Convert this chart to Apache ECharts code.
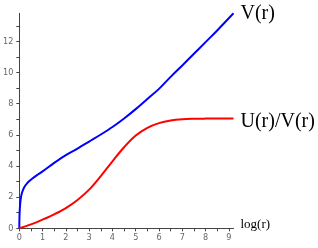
<!DOCTYPE html>
<html>
<head>
<meta charset="utf-8">
<script src="https://cdn.jsdelivr.net/npm/echarts@6/dist/echarts.min.js"></script>
<style>html,body{margin:0;padding:0;background:#fff;}#c{width:318px;height:248px;}</style>
</head>
<body>
<div id="c"></div>
<script>
const vX = [0,0.005,0.02,0.05,0.1,0.2,0.35,0.55,0.8,1,1.5,2,2.5,3,3.5,4,4.5,5,5.5,6,6.5,7,7.5,8,8.5,9.2];
const vY = [0,0.6,1.2,1.75,2.2,2.6,2.92,3.18,3.45,3.65,4.2,4.7,5.12,5.57,6.02,6.5,7.05,7.65,8.3,8.95,9.72,10.45,11.2,11.95,12.7,13.8];
const uX = [0,0.5,1,1.5,2,2.5,3,3.5,4,4.5,5,5.5,6,6.5,7,7.5,8,9.2];
const uY = [0,0.25,0.56,0.9,1.3,1.82,2.48,3.35,4.3,5.2,5.95,6.45,6.75,6.92,7.0,7.03,7.04,7.05];
const xTicks = [0,0.5,1,1.5,2,2.5,3,3.5,4,4.5,5,5.5,6,6.5,7,7.5,8,8.5,9];
const xLabels = [0,1,2,3,4,5,6,7,8,9];
const yTicks = [0,1,2,3,4,5,6,7,8,9,10,11,12,13];
const yLabels = [0,2,4,6,8,10,12];
const seriesNames = ['V(r)', 'U(r)/V(r)'];
const xName = 'log(r)';

const chart = echarts.init(document.getElementById('c'), null, {renderer: 'canvas'});
const labFont = {fontFamily: '"Liberation Sans Narrow","DejaVu Sans Condensed",sans-serif', fontSize: 9, color: '#666'};
const serif = '"Liberation Serif","DejaVu Serif",serif';
chart.setOption({
  animation: false,
  grid: {left: 17.3, right: 84.5, top: 13.3, bottom: 19.7},
  xAxis: {
    type: 'value', min: 0, max: 9.2,
    name: xName, nameLocation: 'end', nameGap: 7,
    nameTextStyle: {fontFamily: serif, fontSize: 13, color: '#000', verticalAlign: 'bottom', lineHeight: 8},
    axisLine: {show: true, lineStyle: {color: '#444', width: 1}},
    axisTick: {show: true, length: 3, customValues: xTicks, lineStyle: {color: '#444'}},
    axisLabel: Object.assign({margin: 5, customValues: xLabels}, labFont),
    splitLine: {show: false}
  },
  yAxis: {
    type: 'value', min: 0, max: 13.8,
    axisLine: {show: true, lineStyle: {color: '#444', width: 1}},
    axisTick: {show: true, length: 3, customValues: yTicks, lineStyle: {color: '#444'}},
    axisLabel: Object.assign({margin: 6, customValues: yLabels}, labFont),
    splitLine: {show: false}
  },
  series: [
    {
      name: seriesNames[0], type: 'line', smooth: 0.35, showSymbol: false,
      data: vX.map((x, i) => [x, vY[i]]),
      lineStyle: {color: '#0000ff', width: 2},
      endLabel: {show: true, formatter: seriesNames[0], distance: 7, fontFamily: serif, fontSize: 20, color: '#000', offset: [0, 0]}
    },
    {
      name: seriesNames[1], type: 'line', smooth: 0.35, showSymbol: false,
      data: uX.map((x, i) => [x, uY[i]]),
      lineStyle: {color: '#ff0000', width: 2},
      endLabel: {show: true, formatter: seriesNames[1], distance: 7, fontFamily: serif, fontSize: 20, color: '#000', offset: [0, 3]}
    }
  ]
});
</script>
</body>
</html>
